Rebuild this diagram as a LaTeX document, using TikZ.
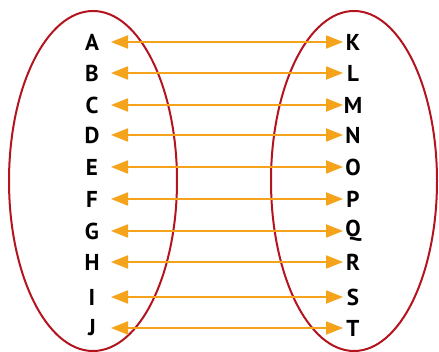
\documentclass[tikz,border=0pt]{standalone}
\usepackage{fontspec}
\setmainfont{PT Sans}
\usetikzlibrary{arrows.meta}
\definecolor{ellred}{HTML}{B3141E}
\definecolor{arrorange}{HTML}{F5A31A}
\begin{document}
\begin{tikzpicture}[x=1pt,y=-1pt,
  lbl/.style={font=\bfseries\fontsize{23}{23}\selectfont, inner sep=0pt, text=black},
  setell/.style={draw=ellred, line width=2pt},
  link/.style={draw=arrorange, line width=2pt, {Triangle[length=17pt,width=13pt]}-{Triangle[length=17pt,width=13pt]}, shorten <=19pt, shorten >=10pt}]
\useasboundingbox (0,0) rectangle (439,352);
\draw[setell] (93,181) ellipse [x radius=84, y radius=170];
\draw[setell] (354,181) ellipse [x radius=83, y radius=170];
\foreach \l/\r/\y in {A/K/42,B/L/73,C/M/105,D/N/135,E/O/167,F/P/199,G/Q/231,H/R/262,I/S/297,J/T/328}{
  \node[lbl] (\l) at (92,\y) {\l};
  \node[lbl] (\r) at (353,\y) {\r};
  \draw[link] (\l.center) -- (\r.center);
}
\end{tikzpicture}
\end{document}
